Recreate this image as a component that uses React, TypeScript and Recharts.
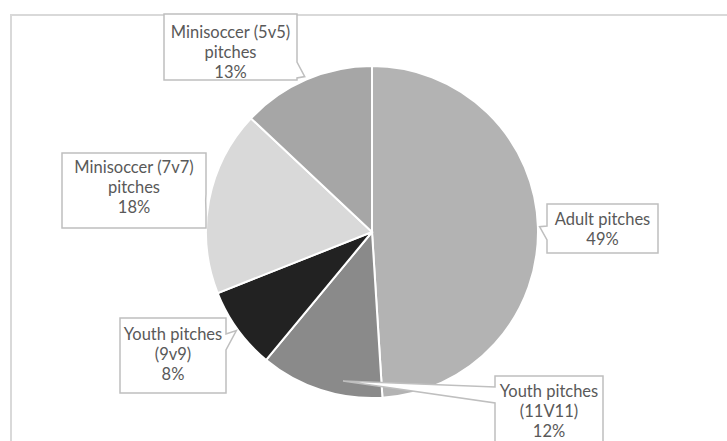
import { PieChart, Pie, Cell } from "recharts";

const categories = [
  "Adult pitches",
  "Youth pitches (11V11)",
  "Youth pitches (9v9)",
  "Minisoccer (7v7) pitches",
  "Minisoccer (5v5) pitches",
];
const shares = [49, 12, 8, 18, 13];
// label lines as Excel wrapped them
const labelLines = [
  ["Adult pitches"],
  ["Youth pitches", "(11V11)"],
  ["Youth pitches", "(9v9)"],
  ["Minisoccer (7v7)", "pitches"],
  ["Minisoccer (5v5)", "pitches"],
];

const sliceColors = ["#b3b3b3", "#8a8a8a", "#222222", "#d9d9d9", "#a6a6a6"];

const data = categories.map((name, i) => ({ name, value: shares[i] }));

// callout boxes (page coords), pointer side and base on that side
const boxes = [
  { x: 547, y: 204, w: 111, h: 49, side: "left", b0: 226, b1: 240, ty: 219, tipR: 1.01, shift: 0 },
  { x: 495, y: 376, w: 108, h: 80, side: "left", b0: 387, b1: 403, ty: 391, tipR: 0.915, shift: 7 },
  { x: 120, y: 318, w: 106, h: 75, side: "right", b0: 334, b1: 350, ty: 334, tipR: 1.01, shift: 0 },
  { x: 62, y: 153, w: 144, h: 75, side: "right", b0: 194, b1: 212, ty: 167, tipR: 1.02, shift: 0 },
  { x: 164, y: 14, w: 133, h: 66, side: "right", b0: 62, b1: 78, ty: 32, tipR: 1.02, shift: 0 },
];

const RAD = Math.PI / 180;

const renderCallout = (props: any) => {
  const { cx, cy, midAngle, outerRadius, index } = props;
  const b = boxes[index];
  const ang = midAngle + b.shift;
  const r = outerRadius * b.tipR;
  const tx = cx + r * Math.cos(-ang * RAD);
  const ty = cy + r * Math.sin(-ang * RAD);
  let d = "";
  if (b.side === "right") {
    const ex = b.x + b.w;
    d = `M${b.x},${b.y} L${ex},${b.y} L${ex},${b.b0} L${tx},${ty} L${ex},${b.b1} L${ex},${b.y + b.h} L${b.x},${b.y + b.h} Z`;
  } else {
    d = `M${b.x},${b.y} L${b.x + b.w},${b.y} L${b.x + b.w},${b.y + b.h} L${b.x},${b.y + b.h} L${b.x},${b.b1} L${tx},${ty} L${b.x},${b.b0} Z`;
  }
  const lines = [...labelLines[index], `${shares[index]}%`];
  return (
    <g key={`callout-${index}`}>
      <path d={d} fill="#ffffff" stroke="#bfbfbf" strokeWidth={1.5} />
      {lines.map((ln, j) => (
        <text
          key={j}
          x={b.x + b.w / 2}
          y={b.ty + j * 20}
          textAnchor="middle"
          dominantBaseline="central"
          fill="#595959"
          fontSize={16.5}
          fontFamily="Lato, sans-serif"
        >
          {ln}
        </text>
      ))}
    </g>
  );
};

export default function App() {
  return (
    <div
      style={{
        position: "absolute",
        left: 0,
        top: 0,
        width: 727,
        height: 441,
        overflow: "hidden",
        background: "#ffffff",
      }}
    >
      <div
        style={{
          position: "absolute",
          left: 10,
          top: 14,
          width: 760,
          height: 480,
          border: "2px solid #d9d9d9",
        }}
      />
      <div style={{ position: "absolute", left: 0, top: 0 }}>
        <PieChart width={727} height={441} margin={{ top: 0, right: 0, bottom: 0, left: 0 }}>
          <Pie
            data={data}
            dataKey="value"
            nameKey="name"
            cx={372}
            cy={232}
            outerRadius={166}
            startAngle={90}
            endAngle={-270}
            stroke="#ffffff"
            strokeWidth={2}
            label={renderCallout}
            labelLine={false}
            isAnimationActive={false}
          >
            {data.map((d, i) => (
              <Cell key={d.name} fill={sliceColors[i]} />
            ))}
          </Pie>
        </PieChart>
      </div>
    </div>
  );
}
